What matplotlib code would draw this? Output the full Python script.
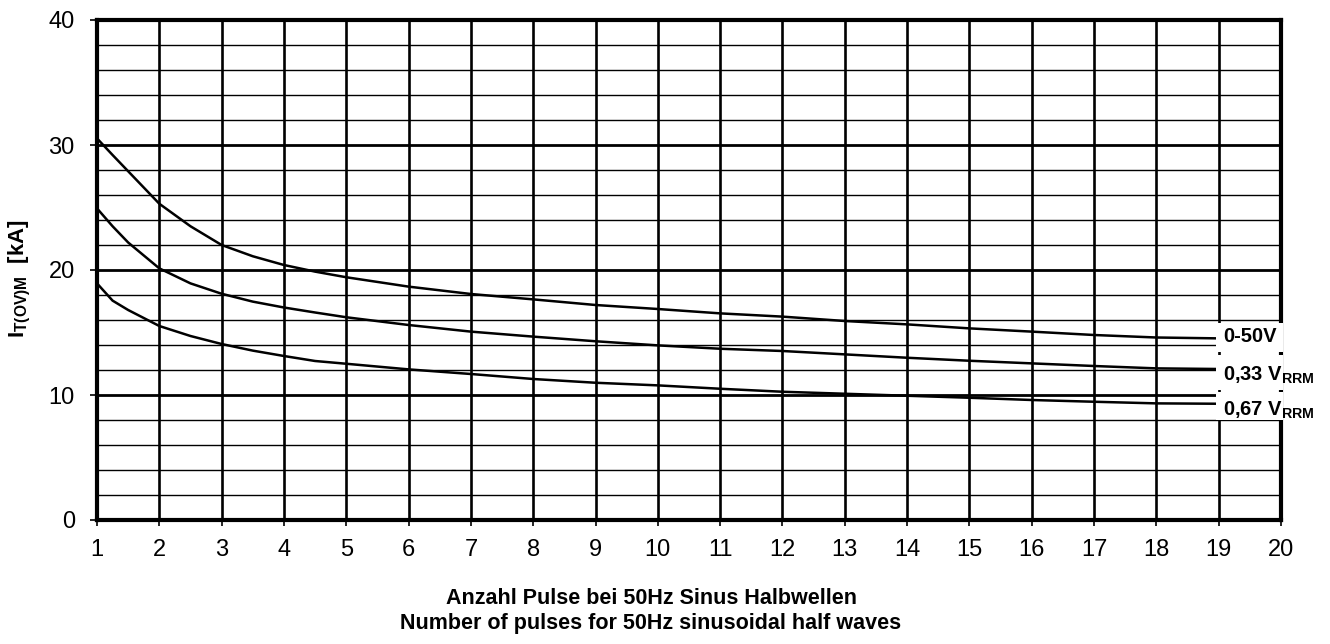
import matplotlib
matplotlib.use("Agg")
import matplotlib.pyplot as plt
from matplotlib.patches import Rectangle

plt.rcParams['font.family'] = ['Liberation Sans', 'DejaVu Sans']
plt.rcParams['mathtext.fontset'] = 'custom'
plt.rcParams['mathtext.rm'] = 'Liberation Sans'
plt.rcParams['mathtext.bf'] = 'Liberation Sans:bold'
plt.rcParams['mathtext.it'] = 'Liberation Sans:italic'

# ---- data ----
pulses = [1, 1.25, 1.5, 2, 2.5, 3, 3.5, 4, 4.5, 5, 6, 7, 8, 9, 10,
          11, 12, 13, 14, 15, 16, 17, 18, 19]
i_0_50V = [30.53, 29.2, 27.9, 25.3, 23.5, 22.0, 21.1, 20.4, 19.87, 19.42,
           18.67, 18.08, 17.65, 17.2, 16.88, 16.53, 16.27, 15.92, 15.65,
           15.33, 15.07, 14.8, 14.6, 14.53]
i_033 = [24.93, 23.5, 22.2, 20.13, 18.93, 18.1, 17.47, 17.0, 16.6, 16.22,
         15.6, 15.07, 14.67, 14.3, 13.97, 13.7, 13.52, 13.25, 12.98,
         12.74, 12.53, 12.32, 12.13, 12.08]
i_067 = [18.93, 17.55, 16.8, 15.52, 14.72, 14.08, 13.55, 13.12, 12.72, 12.5,
         12.05, 11.68, 11.28, 10.98, 10.77, 10.5, 10.26, 10.1, 9.94,
         9.78, 9.6, 9.46, 9.33, 9.3]
series = [i_0_50V, i_033, i_067]
series_labels = ["0-50V", r"0,33 V$_{\mathbf{RRM}}$", r"0,67 V$_{\mathbf{RRM}}$"]
label_y = [14.65, 11.6, 8.8]
label_boxes = [(13.44, 15.76), (10.4, 13.2), (8.0, 10.24)]

x_ticks = list(range(1, 21))
y_ticks = [0, 10, 20, 30, 40]
y_minor = [2, 4, 6, 8, 12, 14, 16, 18, 22, 24, 26, 28, 32, 34, 36, 38]

xlabel_de = "Anzahl Pulse bei 50Hz Sinus Halbwellen"
xlabel_en = "Number of pulses for 50Hz sinusoidal half waves"
ylabel = r"$\mathbf{I_{T(OV)M}}$  [kA]"

# ---- figure ----
fig = plt.figure(figsize=(13.3, 6.44), dpi=100)
ax = fig.add_axes([97/1330, 1-520/644, (1281-97)/1330, (520-20)/644])
ax.set_xlim(1, 20)
ax.set_ylim(0, 40)

# grid
for yv in y_minor:
    ax.axhline(yv, color='black', lw=1.0, zorder=1)
for yv in y_ticks[1:-1]:
    ax.axhline(yv, color='black', lw=2.0, zorder=1)
for xv in x_ticks[1:-1]:
    ax.axvline(xv, color='black', lw=1.9, zorder=1)

for s in series:
    ax.plot(pulses, s, color='black', lw=1.8, zorder=2, solid_joinstyle='round')

for sp in ax.spines.values():
    sp.set_linewidth(3.0)
    sp.set_color('black')

ax.set_xticks(x_ticks)
ax.set_yticks(y_ticks)
ax.tick_params(axis='x', direction='out', length=4, width=1.2, pad=10, labelsize=17)
ax.tick_params(axis='y', direction='out', length=5, width=1.2, pad=11, labelsize=17)

# label boxes
for (y0, y1), txt, ly in zip(label_boxes, series_labels, label_y):
    ax.add_patch(Rectangle((18.96, y0), 1.08, y1 - y0, facecolor='white',
                           edgecolor='none', zorder=4, clip_on=False))
    ax.text(19.07, ly, txt, fontsize=14.5, fontweight='bold', ha='left',
            va='center', zorder=5, clip_on=False)

fig.text(651/1330, 1-599/644, xlabel_de, fontsize=15.5, fontweight='bold',
         ha='center', va='center')
fig.text(651/1330, 1-623/644, xlabel_en, fontsize=15.5, fontweight='bold',
         ha='center', va='center')
fig.text(20/1330, 1-279/644, ylabel, fontsize=16, fontweight='bold',
         rotation=90, ha='center', va='center')

fig.savefig("out.png", dpi=100)
